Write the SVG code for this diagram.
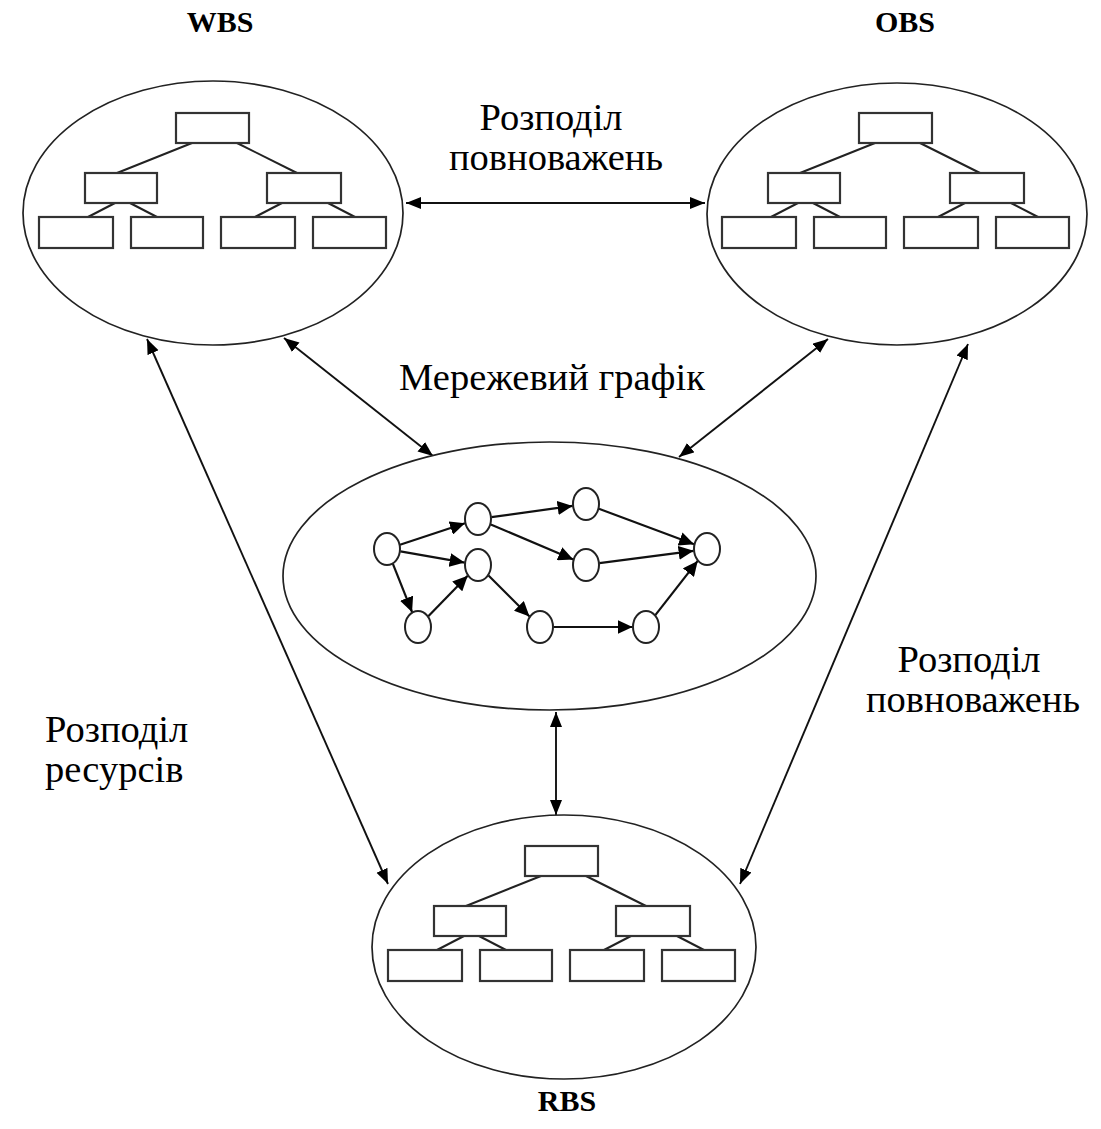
<svg xmlns="http://www.w3.org/2000/svg" xmlns:xlink="http://www.w3.org/1999/xlink" width="1101" height="1129" viewBox="0 0 1101 1129">
<style>
  .bg { fill: #ffffff; }
  .big { fill: #ffffff; stroke: #222; stroke-width: 1.7; }
  .box { fill: #ffffff; stroke: #333; stroke-width: 2.2; }
  .tl { stroke: #222; stroke-width: 2; fill: none; }
  .nd { fill: #ffffff; stroke: #222; stroke-width: 2; }
  .ed { stroke: #111; stroke-width: 2.2; fill: none; marker-end: url(#ah); }
  .cn { stroke: #111; stroke-width: 1.9; fill: none; marker-start: url(#bh); marker-end: url(#bh); }
  .lbl { font-family: "Liberation Serif", "DejaVu Serif", "Times New Roman", serif; font-size: 38.5px; fill: #000; }
  .ttl { font-family: "Liberation Serif", "DejaVu Serif", "Times New Roman", serif; font-size: 30px; font-weight: bold; fill: #000; text-anchor: middle; }
</style>
<defs>
  <marker id="ah" markerUnits="userSpaceOnUse" markerWidth="16" markerHeight="14" refX="15" refY="7" orient="auto">
    <path d="M0,0 L15,7 L0,14 z" fill="#000"/>
  </marker>
  <marker id="bh" markerUnits="userSpaceOnUse" markerWidth="16" markerHeight="13" refX="15" refY="6" orient="auto-start-reverse">
    <path d="M0,0 L15,6 L0,12 z" fill="#000"/>
  </marker>
  <g id="tree">
    <line class="tl" x1="192" y1="143" x2="117" y2="173"/>
    <line class="tl" x1="237" y1="143" x2="297" y2="173"/>
    <line class="tl" x1="115" y1="203" x2="88" y2="217"/>
    <line class="tl" x1="130" y1="203" x2="157" y2="217"/>
    <line class="tl" x1="282" y1="203" x2="255" y2="217"/>
    <line class="tl" x1="328" y1="203" x2="355" y2="217"/>
    <rect class="box" x="176" y="113" width="73" height="30"/>
    <rect class="box" x="85" y="173" width="72" height="30"/>
    <rect class="box" x="267" y="173" width="74" height="30"/>
    <rect class="box" x="39" y="217" width="74" height="31"/>
    <rect class="box" x="131" y="217" width="72" height="31"/>
    <rect class="box" x="221" y="217" width="74" height="31"/>
    <rect class="box" x="313" y="217" width="73" height="31"/>
  </g>
</defs>
<rect class="bg" x="0" y="0" width="1101" height="1129"/>

<g id="connectors">
  <line class="cn" x1="406" y1="203" x2="705" y2="203"/>
  <line class="cn" x1="284" y1="338" x2="433" y2="456"/>
  <line class="cn" x1="828" y1="339" x2="679" y2="457"/>
  <line class="cn" x1="147" y1="339" x2="388" y2="884"/>
  <line class="cn" x1="968" y1="344" x2="740" y2="884"/>
  <line class="cn" x1="556" y1="712" x2="556" y2="815"/>
</g>

<g id="wbs">
  <ellipse class="big" cx="213" cy="213" rx="190" ry="132"/>
  <use xlink:href="#tree" href="#tree"/>
  <text class="ttl" x="220" y="32">WBS</text>
</g>

<g id="obs">
  <ellipse class="big" cx="897" cy="214" rx="190" ry="131"/>
  <use xlink:href="#tree" href="#tree" transform="translate(683,0)"/>
  <text class="ttl" x="905" y="32">OBS</text>
</g>

<g id="rbs">
  <ellipse class="big" cx="564" cy="947" rx="192" ry="132"/>
  <use xlink:href="#tree" href="#tree" transform="translate(349,733)"/>
  <text class="ttl" x="567" y="1111">RBS</text>
</g>

<g id="network">
  <ellipse class="big" cx="549.5" cy="576" rx="266.5" ry="134"/>
  <g id="network-edges">
    <line class="ed" x1="400" y1="544.7" x2="465" y2="523.3"/>
    <line class="ed" x1="400.4" y1="551.4" x2="464.6" y2="562.6"/>
    <line class="ed" x1="392.9" y1="563.8" x2="412.1" y2="612.2"/>
    <line class="ed" x1="428.3" y1="616.3" x2="467.7" y2="575.7"/>
    <line class="ed" x1="491.4" y1="517.1" x2="572.6" y2="505.9"/>
    <line class="ed" x1="490.8" y1="524.4" x2="573.3" y2="559.6"/>
    <line class="ed" x1="488.5" y1="575.5" x2="529.5" y2="616.5"/>
    <line class="ed" x1="598.9" y1="508.8" x2="694.1" y2="544.2"/>
    <line class="ed" x1="599.4" y1="563.2" x2="693.6" y2="550.8"/>
    <line class="ed" x1="553.5" y1="627" x2="632.5" y2="627"/>
    <line class="ed" x1="655.3" y1="615.1" x2="697.7" y2="560.9"/>
  </g>
  <g id="network-nodes">
    <ellipse class="nd" cx="387" cy="549" rx="13" ry="16"/>
    <ellipse class="nd" cx="478" cy="519" rx="13" ry="16"/>
    <ellipse class="nd" cx="478" cy="565" rx="13" ry="16"/>
    <ellipse class="nd" cx="418" cy="627" rx="13" ry="16"/>
    <ellipse class="nd" cx="586" cy="504" rx="13" ry="16"/>
    <ellipse class="nd" cx="586" cy="565" rx="13" ry="16"/>
    <ellipse class="nd" cx="707" cy="549" rx="13" ry="16"/>
    <ellipse class="nd" cx="540" cy="627" rx="13" ry="16"/>
    <ellipse class="nd" cx="646" cy="627" rx="13" ry="16"/>
  </g>
</g>

<g id="labels">
  <text class="lbl" x="551" y="130" text-anchor="middle">Розподіл</text>
  <text class="lbl" x="556" y="170" text-anchor="middle">повноважень</text>
  <text class="lbl" x="552" y="390" text-anchor="middle">Мережевий графік</text>
  <text class="lbl" x="45" y="742">Розподіл</text>
  <text class="lbl" x="45" y="782">ресурсів</text>
  <text class="lbl" x="969" y="672" text-anchor="middle">Розподіл</text>
  <text class="lbl" x="973" y="712" text-anchor="middle">повноважень</text>
</g>
</svg>
